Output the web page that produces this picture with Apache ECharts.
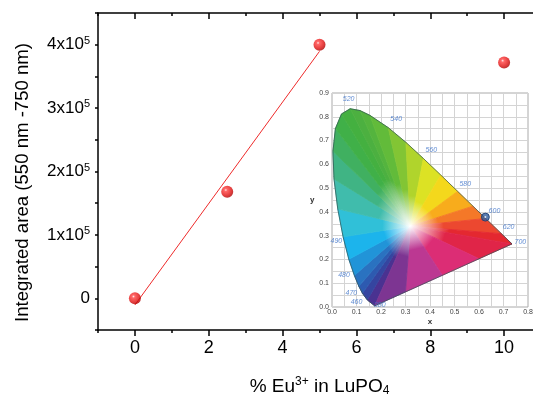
<!DOCTYPE html>
<html>
<head>
<meta charset="utf-8">
<script src="https://cdn.jsdelivr.net/npm/echarts@6/dist/echarts.min.js"></script>
<style>
html,body{margin:0;padding:0;background:#fff;}
#main{width:533px;height:396px;}
</style>
</head>
<body>
<div id="main"></div>
<script>
// main plot data
var euConc = [0, 2.5, 5, 10];
var intArea = [0, 168000, 400000, 372000];
// linear fit (end points as read)
var fitX = [0, 5];
var fitY = [-10500, 389500];

// CIE inset: locus boundary (wavelength nodes then purple line)
var locusX = [0.1741,0.1440,0.1241,0.1096,0.0913,0.0687,0.0454,0.0235,0.0082,0.0039,0.0139,0.0389,0.0743,0.1142,0.1547,0.2296,0.3016,0.3731,0.4441,0.5125,0.5752,0.6270,0.6915,0.7347,0.60,0.45,0.30];
var locusY = [0.0050,0.0297,0.0578,0.0868,0.1327,0.2007,0.2950,0.4127,0.5384,0.6548,0.7502,0.8120,0.8338,0.8262,0.8059,0.7543,0.6923,0.6245,0.5547,0.4866,0.4242,0.3725,0.3083,0.2653,0.2028,0.1331,0.0635];
var locusColor = ['#5a2a8a','#3a3a98','#3050a8','#2a64b8','#2a80c8','#18a8e8','#20c0f0','#40c0c0','#40b898','#40b070','#40b050','#40b040','#48b040','#50b040','#58b83c','#6cbe38','#98cc30','#c8dc28','#f0e820','#f8c818','#f89020','#f06030','#e83030','#e02030','#e02a60','#d8308a','#a0409a'];
var whitePoint = [0.32, 0.34];

// wavelength labels
var wlNames = ['520','540','560','580','600','620','700','500','490','480','470','460','380'];
var wlX = [0.068,0.262,0.405,0.544,0.663,0.721,0.769,-0.037,0.018,0.049,0.079,0.100,0.195];
var wlY = [0.873,0.790,0.658,0.518,0.403,0.338,0.272,0.544,0.277,0.133,0.058,0.021,0.007];
var markPt = [0.626, 0.378];

function hexMix(a, b){
	var r = '#';
	for (var i = 1; i < 7; i += 2) {
		var v = Math.round((parseInt(a.substr(i,2),16) + parseInt(b.substr(i,2),16)) / 2);
		r += (v < 16 ? '0' : '') + v.toString(16);
	}
	return r;
}

var myChart = echarts.init(document.getElementById('main'));
var FONT = 'Liberation Sans, Arial, sans-serif';
var majorY = [0, 100000, 200000, 300000, 400000];
var majorX = [0, 2, 4, 6, 8, 10];

var option = {
	animation: false,
	grid: [
		{left: 98, top: 13, width: 443, height: 317, outerBoundsMode: 'none'},
		{left: 332, top: 93, width: 196, height: 214, outerBoundsMode: 'none', show: true, backgroundColor: '#fff', borderColor: '#aaa', borderWidth: 1, z: 5}
	],
	xAxis: [
		{
			gridIndex: 0, type: 'value', position: 'bottom', min: -1, max: 11, interval: 1,
			axisLine: {onZero: false, lineStyle: {color: '#000', width: 1.5}},
			axisTick: {length: 3, lineStyle: {color: '#000', width: 1.5}},
			splitLine: {show: false},
			axisLabel: {
				fontFamily: FONT, fontSize: 18, color: '#000', margin: 9,
				formatter: function(v){ return (v % 2 === 0 && v >= 0 && v <= 10) ? String(v) : ''; }
			},
			name: '% Eu{sup|3+} in LuPO{sub|4}',
			nameLocation: 'middle', nameGap: 46,
			nameTextStyle: {
				fontFamily: FONT, fontSize: 19, color: '#000',
				rich: {
					sup: {fontFamily: FONT, fontSize: 12, color: '#000', verticalAlign: 'top', padding: [0,0,9,0]},
					sub: {fontFamily: FONT, fontSize: 12, color: '#000', verticalAlign: 'bottom', padding: [9,0,0,0]}
				}
			}
		},
		{
			gridIndex: 0, type: 'value', position: 'bottom', min: -1, max: 11,
			axisLine: {show: false, onZero: false},
			axisTick: {length: 6, customValues: majorX, lineStyle: {color: '#000', width: 1.5}},
			axisLabel: {show: false}, splitLine: {show: false}
		},
		{
			gridIndex: 0, type: 'value', position: 'top', min: -1, max: 11, interval: 1,
			axisLine: {onZero: false, lineStyle: {color: '#000', width: 1.5}},
			axisTick: {inside: true, length: 3, lineStyle: {color: '#000', width: 1.5}},
			axisLabel: {show: false}, splitLine: {show: false}
		},
		{
			gridIndex: 0, type: 'value', position: 'top', min: -1, max: 11,
			axisLine: {show: false, onZero: false},
			axisTick: {inside: true, length: 6, customValues: majorX, lineStyle: {color: '#000', width: 1.5}},
			axisLabel: {show: false}, splitLine: {show: false}
		},
		{
			gridIndex: 1, type: 'value', min: 0, max: 0.8, interval: 0.05, z: 6,
			axisLine: {show: false, onZero: false}, axisTick: {show: false},
			splitLine: {show: true, lineStyle: {color: '#d4d4d4', width: 1}},
			axisLabel: {
				fontFamily: FONT, fontSize: 7, color: '#444', margin: 2,
				formatter: function(v){ var k = Math.round(v * 100); return k % 10 === 0 ? (k / 100).toFixed(1) : ''; }
			},
			name: 'x', nameLocation: 'middle', nameGap: 11, nameMoveOverlap: false,
			nameTextStyle: {fontFamily: FONT, fontSize: 8, fontWeight: 'bold', color: '#333'}
		}
	],
	yAxis: [
		{
			gridIndex: 0, type: 'value', min: -50000, max: 450000, interval: 50000,
			axisLine: {onZero: false, lineStyle: {color: '#000', width: 1.5}},
			axisTick: {length: 3, lineStyle: {color: '#000', width: 1.5}},
			splitLine: {show: false},
			axisLabel: {
				fontFamily: FONT, fontSize: 17, color: '#000', margin: 8,
				formatter: function(v){
					if (v === 0) return '0';
					if (v % 100000 !== 0 || v < 0) return '';
					return (v / 100000) + 'x10{sup|5}';
				},
				rich: {sup: {fontFamily: FONT, fontSize: 11, color: '#000', verticalAlign: 'top', padding: [0,0,8,0]}}
			},
			name: 'Integrated area (550 nm -750 nm)',
			nameLocation: 'middle', nameGap: 66, nameRotate: 90,
			nameTextStyle: {fontFamily: FONT, fontSize: 18.6, color: '#000', padding: [0,22,0,0]}
		},
		{
			gridIndex: 0, type: 'value', min: -50000, max: 450000,
			axisLine: {show: false, onZero: false},
			axisTick: {length: 6, customValues: majorY, lineStyle: {color: '#000', width: 1.5}},
			axisLabel: {show: false}, splitLine: {show: false}
		},
		{
			gridIndex: 1, type: 'value', min: 0, max: 0.9, interval: 0.05, z: 6,
			axisLine: {show: false, onZero: false}, axisTick: {show: false},
			splitLine: {show: true, lineStyle: {color: '#d4d4d4', width: 1}},
			axisLabel: {
				fontFamily: FONT, fontSize: 7, color: '#444', margin: 3,
				formatter: function(v){ var k = Math.round(v * 100); return k % 10 === 0 ? (k / 100).toFixed(1) : ''; }
			},
			name: 'y', nameLocation: 'middle', nameGap: 12, nameRotate: 0,
			nameTextStyle: {fontFamily: FONT, fontSize: 8, fontWeight: 'bold', color: '#333'}
		}
	],
	series: [
		{
			type: 'line', xAxisIndex: 0, yAxisIndex: 0, symbol: 'none',
			data: fitX.map(function(x, i){ return [x, fitY[i]]; }),
			lineStyle: {color: '#ee2a2a', width: 1}, z: 2
		},
		{
			type: 'scatter', xAxisIndex: 0, yAxisIndex: 0, symbolSize: 12,
			data: euConc.map(function(x, i){ return [x, intArea[i]]; }),
			itemStyle: {
				color: new echarts.graphic.RadialGradient(0.38, 0.35, 0.65, [
					{offset: 0, color: '#ffe0e0'},
					{offset: 0.2, color: '#ff4040'},
					{offset: 0.7, color: '#e01010'},
					{offset: 1, color: '#b00000'}
				])
			},
			z: 3
		},
		{
			type: 'custom', xAxisIndex: 4, yAxisIndex: 2, z: 7,
			data: [0],
			renderItem: function(params, api){
				var c = api.coord(whitePoint);
				var n = locusX.length;
				var children = [];
				var outline = [];
				for (var i = 0; i < n; i++) {
					var j = (i + 1) % n;
					var p1 = api.coord([locusX[i], locusY[i]]);
					var p2 = api.coord([locusX[j], locusY[j]]);
					outline.push(p1);
					var mx = (p1[0] + p2[0]) / 2, my = (p1[1] + p2[1]) / 2;
					var col = hexMix(locusColor[i], locusColor[j]);
					var grad = new echarts.graphic.LinearGradient(c[0], c[1], mx, my, [
						{offset: 0, color: '#ffffff'},
						{offset: 0.4, color: col},
						{offset: 1, color: col}
					], true);
					children.push({
						type: 'polygon',
						shape: {points: [c, p1, p2]},
						style: {fill: grad, stroke: grad, lineWidth: 0.8}
					});
				}
				children.push({
					type: 'polygon',
					shape: {points: outline},
					style: {fill: 'none', stroke: '#2e5050', lineWidth: 0.7}
				});
				return {type: 'group', children: children};
			}
		},
		{
			type: 'scatter', xAxisIndex: 4, yAxisIndex: 2, z: 8, symbolSize: 1,
			itemStyle: {color: 'rgba(0,0,0,0)'},
			data: wlNames.map(function(nm, i){ return {name: nm, value: [wlX[i], wlY[i]]}; }),
			label: {
				show: true, position: 'inside', formatter: '{b}',
				fontFamily: FONT, fontSize: 7, fontStyle: 'italic', color: '#3a70c8'
			}
		},
		{
			type: 'scatter', xAxisIndex: 4, yAxisIndex: 2, z: 9, symbolSize: 8,
			data: [markPt],
			itemStyle: {color: '#2f5d9e', borderColor: '#1d3b6e', borderWidth: 1}
		},
		{
			type: 'scatter', xAxisIndex: 4, yAxisIndex: 2, z: 10, symbolSize: 2,
			data: [markPt],
			itemStyle: {color: '#ffffff'}
		}
	]
};
myChart.setOption(option);
</script>
</body>
</html>
